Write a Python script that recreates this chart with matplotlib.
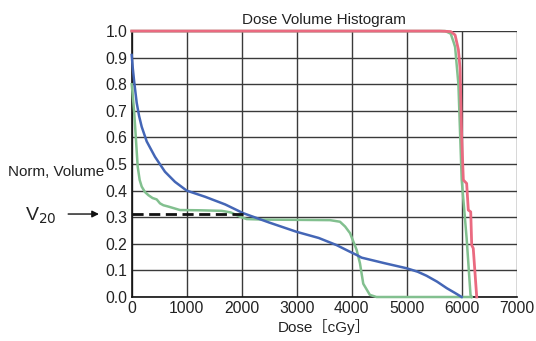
import matplotlib.pyplot as plt

plt.rcParams['font.family'] = ['Liberation Sans', 'Noto Sans CJK JP', 'DejaVu Sans']

# DVH curves (dose in cGy, normalised volume)
red_dose = [0, 5600, 5800, 5880, 5940, 5970, 6000, 6030, 6090, 6120, 6164, 6182, 6210, 6273]
red_vol = [1.0, 1.0, 0.998, 0.985, 0.93, 0.86, 0.60, 0.44, 0.427, 0.327, 0.32, 0.195, 0.183, 0.0]

green_dose = [0, 11, 47, 78, 109, 145, 182, 240, 303, 380, 454, 515, 576, 667, 878,
              1240, 1636, 1800, 1970, 2090, 2400, 3060, 3606, 3787, 3880, 3970, 4090,
              4150, 4210, 4330, 4450, 5600, 6180]
green_vol = [0.80, 0.778, 0.69, 0.59, 0.49, 0.44, 0.415, 0.395, 0.383, 0.372, 0.367,
             0.352, 0.345, 0.34, 0.327, 0.326, 0.324, 0.318, 0.302, 0.293, 0.291, 0.29,
             0.289, 0.283, 0.265, 0.24, 0.177, 0.127, 0.05, 0.008, 0.0, 0.0, 0.0]
green2_dose = [0, 5700, 5800, 5850, 5880, 5940, 6000, 6090, 6160, 6180]
green2_vol = [1.0, 1.0, 0.99, 0.96, 0.94, 0.80, 0.44, 0.22, 0.008, 0.0]

blue_dose = [0, 20, 45, 91, 135, 182, 273, 424, 605, 787, 1000, 1333, 1700, 2030,
             2500, 3000, 3400, 3727, 3950, 4090, 4180, 4600, 5000, 5200, 5360, 5550,
             5730, 5880, 6000]
blue_vol = [0.91, 0.86, 0.81, 0.73, 0.68, 0.64, 0.585, 0.527, 0.471, 0.433, 0.400,
            0.377, 0.348, 0.315, 0.28, 0.245, 0.222, 0.195, 0.172, 0.158, 0.148, 0.127,
            0.108, 0.095, 0.08, 0.058, 0.033, 0.015, 0.0]

v20_dose = 2030
v20_vol = 0.312

xticks = [0, 1000, 2000, 3000, 4000, 5000, 6000, 7000]
yticks = [0.0, 0.1, 0.2, 0.3, 0.4, 0.5, 0.6, 0.7, 0.8, 0.9, 1.0]

fig = plt.figure(figsize=(5.36, 3.41), dpi=100)
ax = fig.add_axes([0.2457, 0.129, 0.7183, 0.78])

ax.set_xlim(0, 7000)
ax.set_ylim(0, 1.0)
ax.set_xticks(xticks)
ax.set_yticks(yticks)
ax.set_xticklabels([str(t) for t in xticks])
ax.set_yticklabels([f'{t:.1f}' for t in yticks])
ax.tick_params(length=0, labelsize=11.3, pad=3, colors='#222222')
ax.grid(True, color='#3a3a3a', lw=1.0)
ax.set_axisbelow(True)
for s in ['top', 'right']:
    ax.spines[s].set_visible(False)
for s in ['left', 'bottom']:
    ax.spines[s].set_color('#111111')
    ax.spines[s].set_linewidth(1.2)

ax.plot(green_dose, green_vol, color='#82c08f', lw=1.8, clip_on=False, zorder=3)
ax.plot(green2_dose, green2_vol, color='#82c08f', lw=1.8, clip_on=False, zorder=3)
ax.plot(blue_dose, blue_vol, color='#4466b6', lw=1.8, clip_on=False, zorder=4)
ax.plot(red_dose, red_vol, color='#ea6a80', lw=2.0, clip_on=False, zorder=5)

ax.plot([0, v20_dose], [v20_vol, v20_vol], color='#111111', lw=2.0,
        ls=(0, (4, 2)), zorder=6)

ax.set_title('Dose Volume Histogram', fontsize=11, pad=5, color='#222222')
ax.set_xlabel('Dose［cGy］', fontsize=11, labelpad=2, color='#222222')
fig.text(8 / 536, 1 - 172 / 341, 'Norm, Volume', fontsize=11, va='center',
         ha='left', color='#222222')

ax.annotate('', xy=(-0.085, v20_vol), xycoords=('axes fraction', 'data'),
            xytext=(-0.165, v20_vol),
            arrowprops=dict(arrowstyle='-|>', color='#111111', lw=1.0,
                            mutation_scale=10, shrinkA=0, shrinkB=0),
            annotation_clip=False)
fig.text(25 / 536, 1 - 216 / 341, 'V$_{20}$', fontsize=14, va='center', ha='left',
         color='#222222', math_fontfamily='dejavusans')

fig.savefig('out.png', dpi=100)
